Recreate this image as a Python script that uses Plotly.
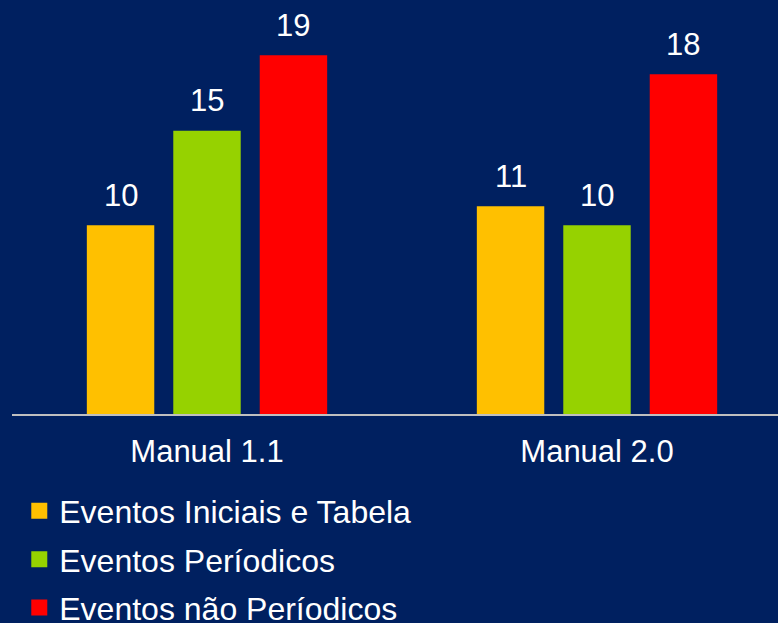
import plotly.graph_objects as go

categories = ["Manual 1.1", "Manual 2.0"]
series_names = ["Eventos Iniciais e Tabela", "Eventos Períodicos", "Eventos não Períodicos"]
iniciais = [10, 11]
periodicos = [15, 10]
nao_periodicos = [19, 18]
series_values = [iniciais, periodicos, nao_periodicos]
colors = ["#FFC000", "#96D200", "#FF0000"]

W, H = 778, 623
BG = "#002060"
FONT = "Liberation Sans, Arial, sans-serif"

fig = go.Figure()
for name, vals, col in zip(series_names, series_values, colors):
    fig.add_trace(go.Bar(x=categories, y=vals, name=name, marker=dict(color=col, line=dict(width=0)),
                         showlegend=False))
# legend entries (larger square symbols)
for name, col in zip(series_names, colors):
    fig.add_trace(go.Scatter(x=[None], y=[None], mode="markers", name=name, legendgroup=name,
                             marker=dict(symbol="square", size=16, color=col)))

slot_px = 86.45
annotations = []
for i, vals in enumerate(series_values):
    for c, v in zip(categories, vals):
        annotations.append(dict(x=c, y=v, text=str(v), showarrow=False, xref="x", yref="y",
                                xshift=(i - 1) * slot_px, yshift=30, yanchor="middle",
                                font=dict(size=31, color="white", family=FONT)))

plot_h = 414.5
fig.update_layout(
    width=W, height=H,
    paper_bgcolor=BG, plot_bgcolor=BG,
    margin=dict(l=12, r=0, t=0, b=H - plot_h, autoexpand=False),
    barmode="group", bargap=0.335, bargroupgap=0.22,
    font=dict(family=FONT, color="white", size=31),
    annotations=annotations,
    showlegend=True,
    legend=dict(orientation="v", x=0.0095, xanchor="left", y=-0.168, yanchor="top",
                font=dict(size=32, color="white", family=FONT), bgcolor="rgba(0,0,0,0)",
                tracegroupgap=3.7, itemsizing="trace"),
    xaxis=dict(range=[-0.5, 1.5 - 14 / 390], showline=True, linecolor="#BFBFBF", linewidth=2,
               showgrid=False, zeroline=False, ticks="", ticklabelstandoff=9,
               tickfont=dict(size=31, color="white", family=FONT)),
    yaxis=dict(range=[0, plot_h / 18.9], visible=False, showgrid=False, zeroline=False),
)

fig.write_html("out.html", config={"displayModeBar": False},
               post_script="document.body.style.margin='0';document.body.style.background='%s';" % BG)
